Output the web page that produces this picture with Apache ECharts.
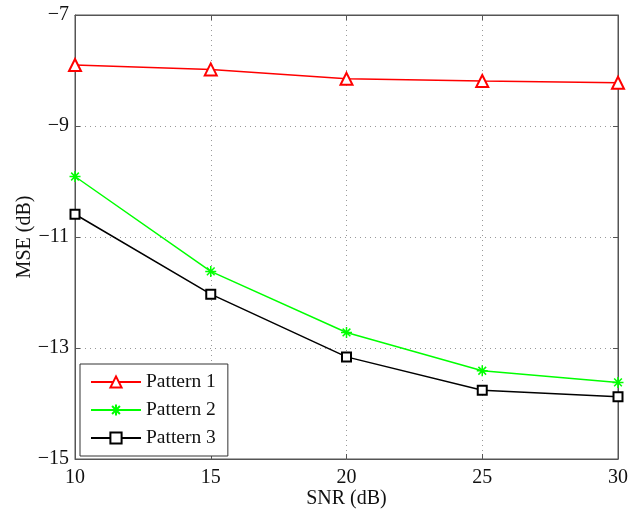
<!DOCTYPE html>
<html>
<head>
<meta charset="utf-8">
<script src="https://cdn.jsdelivr.net/npm/echarts@6/dist/echarts.min.js"></script>
<style>
html, body { margin: 0; padding: 0; background: #fff; }
#main { width: 629px; height: 509px; }
</style>
</head>
<body>
<div id="main"></div>
<script>
// SNR values (x) and MSE curves (y)
var snr = [10, 15, 20, 25, 30];
var pattern1 = [-7.90, -7.98, -8.15, -8.19, -8.22];
var pattern2 = [-9.91, -11.62, -12.72, -13.41, -13.62];
var pattern3 = [-10.59, -12.03, -13.16, -13.76, -13.88];
var names = ['Pattern 1', 'Pattern 2', 'Pattern 3'];

function pairs(ys) {
    return snr.map(function (x, i) { return [x, ys[i]]; });
}

var myChart = echarts.init(document.getElementById('main'));
var font = 'Liberation Serif';
var axisCol = '#555';
var star = 'path://M0,-10L0,10M-10,0L10,0M-7,-7L7,7M-7,7L7,-7';

function minus(v) { return String(v).replace('-', '\u2212'); }

var option = {
    animation: false,
    backgroundColor: '#fff',
    grid: {
        left: 75, top: 15, right: 11, bottom: 50,
        outerBoundsMode: 'none', containLabel: false,
        show: true, borderColor: axisCol, borderWidth: 1
    },
    legend: {
        orient: 'vertical',
        left: 80, top: 364,
        data: names,
        itemWidth: 50, itemHeight: 14, itemGap: 8,
        padding: [8, 12, 8, 10],
        backgroundColor: '#fff',
        borderColor: '#333', borderWidth: 1,
        textStyle: { fontFamily: font, fontSize: 19.5, color: '#111' }
    },
    xAxis: [{
        type: 'value', min: 10, max: 30, interval: 5,
        name: 'SNR (dB)', nameLocation: 'middle', nameGap: 30, nameMoveOverlap: false,
        nameTextStyle: { fontFamily: font, fontSize: 20, color: '#111' },
        axisLine: { lineStyle: { color: axisCol } },
        axisTick: { inside: true, length: 5, lineStyle: { color: axisCol } },
        axisLabel: { fontFamily: font, fontSize: 20, color: '#111', margin: 9 },
        splitLine: { show: true, lineStyle: { type: [1, 4], color: '#999' } }
    }, {
        type: 'value', position: 'top', min: 10, max: 30, interval: 5,
        axisLine: { lineStyle: { color: axisCol } },
        axisTick: { inside: true, length: 5, lineStyle: { color: axisCol } },
        axisLabel: { show: false }, splitLine: { show: false }
    }],
    yAxis: [{
        type: 'value', min: -15, max: -7, interval: 2,
        name: 'MSE (dB)', nameLocation: 'middle', nameGap: 40, nameMoveOverlap: false,
        nameTextStyle: { fontFamily: font, fontSize: 20, color: '#111' },
        axisLine: { lineStyle: { color: axisCol } },
        axisTick: { inside: true, length: 5, lineStyle: { color: axisCol } },
        axisLabel: { fontFamily: font, fontSize: 20, color: '#111', margin: 6, formatter: minus },
        splitLine: { show: true, lineStyle: { type: [1, 4], color: '#999' } }
    }, {
        type: 'value', position: 'right', min: -15, max: -7, interval: 2,
        axisLine: { lineStyle: { color: axisCol } },
        axisTick: { inside: true, length: 5, lineStyle: { color: axisCol } },
        axisLabel: { show: false }, splitLine: { show: false }
    }],
    series: [{
        name: names[0], type: 'line', data: pairs(pattern1),
        symbol: 'emptyTriangle', symbolSize: 12,
        lineStyle: { color: '#ff0000', width: 1.5 },
        itemStyle: { color: '#ff0000', borderColor: '#ff0000', borderWidth: 1.5 }
    }, {
        name: names[1], type: 'line', data: pairs(pattern2),
        symbol: star, symbolSize: 11,
        lineStyle: { color: '#00ff00', width: 1.5 },
        itemStyle: { color: '#00ff00', borderColor: '#00ff00', borderWidth: 1.5 }
    }, {
        name: names[2], type: 'line', data: pairs(pattern3),
        symbol: 'emptyRect', symbolSize: 9,
        lineStyle: { color: '#000', width: 1.5 },
        itemStyle: { color: '#000', borderColor: '#000', borderWidth: 1.5 }
    }]
};

myChart.setOption(option);
</script>
</body>
</html>
